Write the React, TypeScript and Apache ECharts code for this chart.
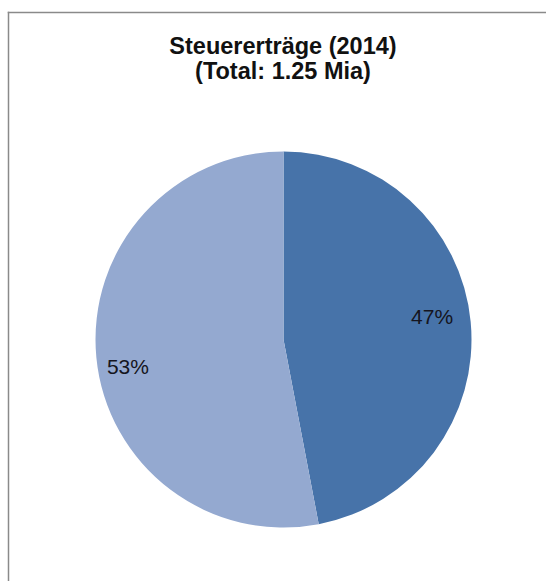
import React, { useEffect, useRef } from "react";
import * as echarts from "echarts";

const titleLines = ["Steuererträge (2014)", "(Total: 1.25 Mia)"];
const categories = ["Anteil A", "Anteil B"];
const shares = [47, 53];
const colors = ["#4773a9", "#94a9d0"];

export default function App() {
  const ref = useRef<HTMLDivElement>(null);
  useEffect(() => {
    if (!ref.current) return;
    const chart = echarts.init(ref.current, undefined, { renderer: "svg" });
    const labelOffsets = [
      [52, -14],
      [-59, 18],
    ];
    const titleY = [46, 71];
    chart.setOption({
      animation: false,
      backgroundColor: "#ffffff",
      graphic: [
        {
          type: "line",
          shape: { x1: 7.75, y1: 12.5, x2: 546, y2: 12.5 },
          style: { stroke: "#8a8a8a", lineWidth: 1.5 },
          silent: true,
        },
        {
          type: "line",
          shape: { x1: 8.5, y1: 11.75, x2: 8.5, y2: 581 },
          style: { stroke: "#8a8a8a", lineWidth: 1.5 },
          silent: true,
        },
        ...titleLines.map((t, i) => ({
          type: "text",
          x: 283,
          y: titleY[i],
          style: {
            text: t,
            align: "center",
            verticalAlign: "middle",
            fontFamily: "Liberation Sans, Arial, sans-serif",
            fontWeight: "bold",
            fontSize: 23.5,
            fill: "#111111",
          },
          z: 10,
        })),
      ],
      series: [
        {
          type: "pie",
          center: [283.5, 339.5],
          radius: 188,
          startAngle: 90,
          clockwise: true,
          avoidLabelOverlap: false,
          itemStyle: { borderWidth: 0 },
          label: {
            show: true,
            position: "inside",
            formatter: (p: any) => Math.round(p.percent) + "%",
            fontFamily: "Liberation Sans, Arial, sans-serif",
            fontSize: 21,
            color: "#151520",
          },
          labelLine: { show: false },
          labelLayout: (p: any) => ({
            dx: labelOffsets[p.dataIndex][0],
            dy: labelOffsets[p.dataIndex][1],
          }),
          emphasis: { disabled: true },
          data: categories.map((name, i) => ({
            name,
            value: shares[i],
            itemStyle: { color: colors[i] },
          })),
        },
      ],
    });
    return () => chart.dispose();
  }, []);
  return (
    <div
      ref={ref}
      style={{ position: "fixed", left: 0, top: 0, width: 546, height: 581 }}
    />
  );
}
